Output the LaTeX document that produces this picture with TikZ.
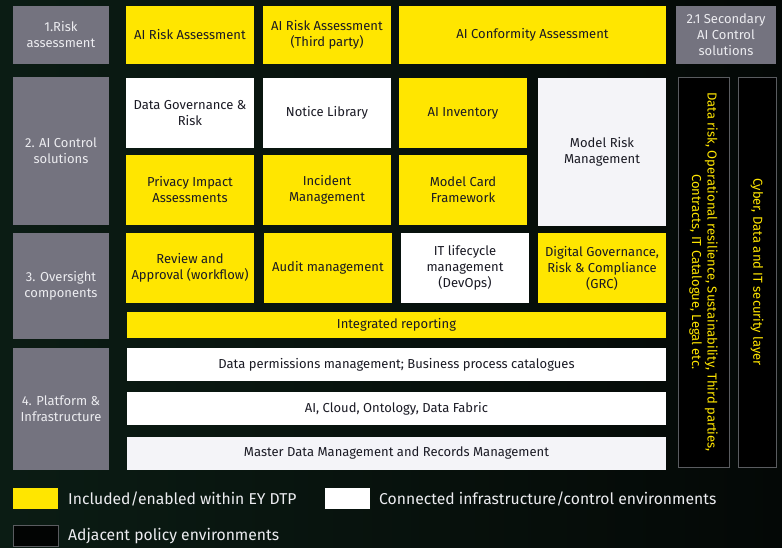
\documentclass[tikz,border=0pt]{standalone}
\usepackage{fontspec}
\setmainfont{Fira Sans}
\usetikzlibrary{positioning}
\definecolor{bgA}{HTML}{0B1C14}
\definecolor{bgB}{HTML}{040806}
\definecolor{eyyellow}{HTML}{FFE600}
\definecolor{graybox}{HTML}{74737F}
\definecolor{offwhite}{HTML}{F4F4F8}
\definecolor{graytext}{HTML}{ECECF0}
\definecolor{outl}{HTML}{5A5C60}
\definecolor{darktext}{HTML}{1A1A24}
\begin{document}
\begin{tikzpicture}[x=1pt,y=-1pt,
  base/.style={rectangle, inner sep=1pt, align=center, font=\fontsize{13}{16}\selectfont},
  ybox/.style={base, fill=eyyellow, text=darktext},
  wbox/.style={base, fill=white, text=darktext},
  obox/.style={base, fill=offwhite, text=darktext},
  gbox/.style={base, fill=graybox, text=graytext, minimum width=96pt},
  vbox/.style={base, fill=black, draw=outl, line width=0.8pt, text=eyyellow, minimum height=390pt},
  vtext/.style={rotate=-90, text=eyyellow, align=center, inner sep=0pt, font=\fontsize{13}{15.5}\selectfont},
  legtext/.style={anchor=west, inner sep=0pt, text=graytext, font=\fontsize{15.7}{18}\selectfont},
  legbox/.style={minimum width=45pt, minimum height=21pt, inner sep=0pt},
  cell/.style={minimum width=128pt, minimum height=70pt},
  wide/.style={minimum width=539pt}
]
\shade[left color=bgA, right color=bgB] (0,0) rectangle (782,547);
\useasboundingbox (0,0) rectangle (782,547);

% row 1
\node[gbox, minimum height=58pt] (g1) at (61,35) {1.Risk\\assessment};
\node[ybox, minimum width=128pt, minimum height=58pt] (ra) at (190,35) {AI Risk Assessment};
\node[ybox, minimum width=128pt, minimum height=58pt] (rt) at (327,35) {AI Risk Assessment\\(Third party)};
\node[ybox, minimum width=267pt, minimum height=58pt] (rc) at (532.5,35) {AI Conformity Assessment};
\node[gbox, minimum width=100pt, minimum height=58pt] (g21) at (726,35) {2.1 Secondary\\AI Control\\solutions};

% row 2
\node[gbox, minimum height=148pt] (g2) at (61,151) {2. AI Control\\solutions};
\node[wbox, cell] (dg) at (190,113) {Data Governance \&\\Risk};
\node[wbox, cell] (nl) at (327,113) {Notice Library};
\node[ybox, cell] (ai) at (463,113) {AI Inventory};
\node[obox, minimum width=128pt, minimum height=148pt] (mrm) at (602,152) {Model Risk\\Management};
\node[ybox, cell] (pia) at (190,190) {Privacy Impact\\Assessments};
\node[ybox, cell] (im) at (327,190) {Incident\\Management};
\node[ybox, cell] (mc) at (463,190) {Model Card\\Framework};

% vertical columns
\node[vbox, minimum width=51pt] (v1) at (703.5,272) {};
\node[vtext] (v1t) at (v1.center) {Data risk, Operational resilience, Sustainability, Third parties,\\Contracts, IT Catalogue, Legal etc.};
\node[vbox, minimum width=38pt] (v2) at (757,272) {};
\node[vtext] (v2t) at (v2.center) {Cyber, Data and IT security layer};

% row 3
\node[gbox, minimum height=106pt] (g3) at (61,286) {3. Oversight\\components};
\node[ybox, cell] (rev) at (190,268) {Review and\\Approval (workflow)};
\node[ybox, cell] (aud) at (328,268) {Audit management};
\node[wbox, cell] (itl) at (465,268) {IT lifecycle\\management\\(DevOps)};
\node[ybox, cell] (dgrc) at (602,268) {Digital Governance,\\Risk \& Compliance\\(GRC)};
\node[ybox, wide, minimum height=26pt] (ir) at (396.5,325) {Integrated reporting};

% row 4
\node[gbox, minimum height=122pt] (g4) at (61,409) {4. Platform \&\\Infrastructure};
\node[wbox, wide, minimum height=33pt] (dp) at (396.5,364.5) {Data permissions management; Business process catalogues};
\node[wbox, wide, minimum height=33pt] (ac) at (396.5,408.5) {AI, Cloud, Ontology, Data Fabric};
\node[obox, wide, minimum height=33pt] (md) at (396.5,453.5) {Master Data Management and Records Management};

% legend
\node[legbox, fill=eyyellow] (ly) at (35.5,498.5) {};
\node[legtext] (lyt) at (68,498.5) {Included/enabled within EY DTP};
\node[legbox, fill=white] (lw) at (347.5,498.5) {};
\node[legtext] (lwt) at (379,498.5) {Connected infrastructure/control environments};
\node[legbox, fill=black!85!bgA, draw=outl, line width=0.8pt] (lb) at (35.5,536) {};
\node[legtext] (lbt) at (68,536) {Adjacent policy environments};
\end{tikzpicture}
\end{document}
